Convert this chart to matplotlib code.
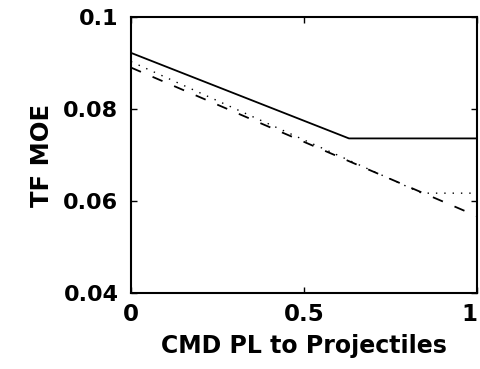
import matplotlib
matplotlib.use("Agg")
import matplotlib.pyplot as plt

# valeurs
x_plein = [0, 0.63, 1]
y_plein = [0.0922, 0.0736, 0.0736]

x_points = [0, 0.84, 1]
y_points = [0.0903, 0.0617, 0.0617]

x_tirets = [0, 1]
y_tirets = [0.0890, 0.0567]

x_ticks = [0, 0.5, 1]
x_labels = ["0", "0.5", "1"]
y_ticks = [0.04, 0.06, 0.08, 0.1]
y_labels = ["0.04", "0.06", "0.08", "0.1"]

plt.rcParams["font.family"] = ["DejaVu Sans"]
plt.rcParams["font.weight"] = "bold"

fig = plt.figure(figsize=(4.81, 3.69), dpi=100)
ax = fig.add_axes([0.2723, 0.206, 0.7194, 0.748])

ax.plot(x_plein, y_plein, color="black", linewidth=1.3, linestyle="-")
ax.plot(x_points, y_points, color="black", linewidth=1.0, linestyle=(0, (1, 5)))
ax.plot(x_tirets, y_tirets, color="black", linewidth=1.3, linestyle=(0, (6, 7)))

ax.set_xlim(0, 1)
ax.set_ylim(0.04, 0.1)
ax.set_xticks(x_ticks)
ax.set_xticklabels(x_labels, fontsize=16.5, fontweight="bold")
ax.set_yticks(y_ticks)
ax.set_yticklabels(y_labels, fontsize=16, fontweight="bold")
ax.tick_params(direction="in", length=4, width=1, top=True, right=True)
ax.tick_params(axis="y", pad=9)
ax.tick_params(axis="x", pad=7)
ax.get_xticklabels()[-1].set_horizontalalignment("right")

for sp in ax.spines.values():
    sp.set_linewidth(1.5)

ax.set_xlabel("CMD PL to Projectiles", fontsize=17, fontweight="bold", labelpad=6)
ax.set_ylabel("TF MOE", fontsize=17.5, fontweight="bold", labelpad=7)

plt.savefig("out.png", dpi=100)
